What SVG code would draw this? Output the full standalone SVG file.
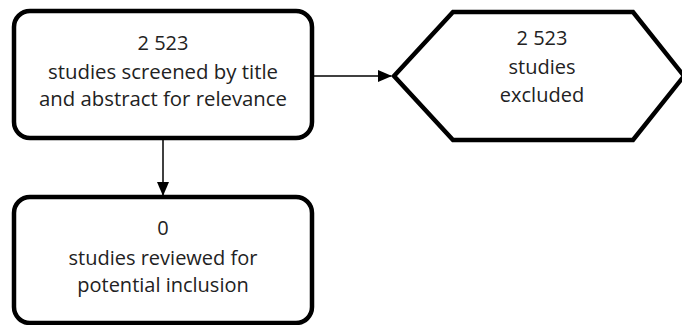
<svg xmlns="http://www.w3.org/2000/svg" width="682" height="325" viewBox="0 0 682 325">
<style>
.box{fill:#fff;stroke:#000;stroke-width:4.5}
.t{font-family:"Open Sans","Liberation Sans",sans-serif;font-size:20px;fill:#222;text-anchor:middle}
.c{stroke:#000;stroke-width:1.5;fill:none}
</style>
<defs>
<marker id="ah" markerWidth="14" markerHeight="12" refX="13" refY="6" orient="auto" markerUnits="userSpaceOnUse">
<path d="M0,0 L14,6 L0,12 Z" fill="#000"/>
</marker>
</defs>
<rect width="682" height="325" fill="#fff"/>
<g id="connectors">
<line class="c" x1="313" y1="76" x2="391" y2="76" marker-end="url(#ah)"/>
<line class="c" x1="163" y1="139" x2="163" y2="195" marker-end="url(#ah)"/>
</g>
<g id="screened">
<rect class="box" x="14" y="11" width="298" height="127" rx="16"/>
<text class="t" x="163" y="50">2 523</text>
<text class="t" x="163" y="79" textLength="230" lengthAdjust="spacingAndGlyphs">studies screened by title</text>
<text class="t" x="163" y="106" textLength="248" lengthAdjust="spacingAndGlyphs">and abstract for relevance</text>
</g>
<g id="excluded">
<polygon class="box" points="394,76 453,12 633,12 684,76 633,140 453,140"/>
<text class="t" x="542" y="45">2 523</text>
<text class="t" x="542" y="74">studies</text>
<text class="t" x="542" y="102">excluded</text>
</g>
<g id="reviewed">
<rect class="box" x="14" y="197" width="298" height="126" rx="16"/>
<text class="t" x="163" y="235">0</text>
<text class="t" x="163" y="265">studies reviewed for</text>
<text class="t" x="163" y="292">potential inclusion</text>
</g>
</svg>
